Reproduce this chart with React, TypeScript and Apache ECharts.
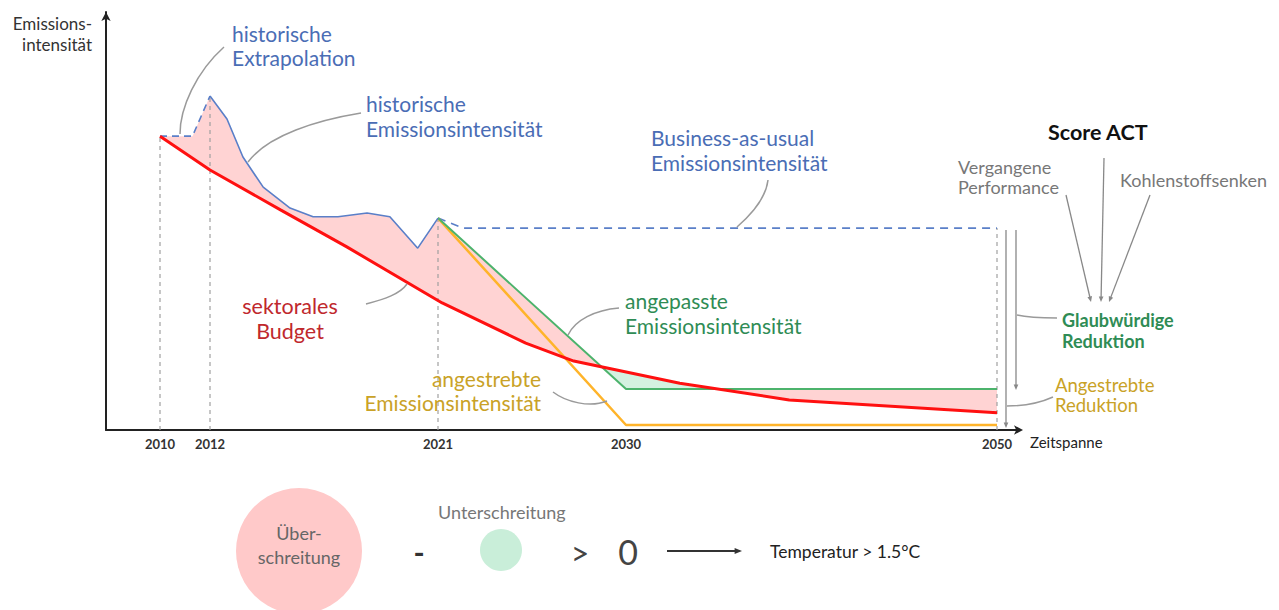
import React, { useEffect, useRef } from "react";
import * as echarts from "echarts";

// ---- time axis (schematic, non-linear spacing between labelled years) ----
const tickYears = [2010, 2012, 2021, 2030, 2050];
const tickUnits = [0, 2, 11.12, 18.64, 33.48];

// ---- series (emission intensity, arbitrary units 0..100) ----
const extrapolationYears = [2010, 2011.3, 2012];
const extrapolationValues = [70.3, 70.3, 79.9];

const historyYears = [2012, 2012.67, 2013.3, 2014.1, 2015.16, 2016.07, 2017.05, 2018.2, 2019.1, 2020.2, 2021];
const historyValues = [79.9, 74.4, 65.3, 58.1, 53.1, 51.0, 51.0, 51.9, 51.0, 43.5, 50.7];

const budgetYears = [2010, 2012, 2014.8, 2017.4, 2021.2, 2025.2, 2027.5, 2032.9, 2038.8, 2050];
const budgetValues = [70.3, 62.2, 52.6, 43.8, 30.4, 20.8, 16.5, 11.2, 7.2, 4.1];

const bauYears = [2021, 2022.2, 2050];
const bauValues = [50.7, 48.3, 48.3];

const adjustedYears = [2021, 2030, 2050];
const adjustedValues = [50.7, 9.8, 9.8];

const targetYears = [2021, 2030, 2050];
const targetValues = [50.7, 1.2, 1.2];

const guideYears = [2010, 2012, 2021, 2050];
const guideTops = [70.3, 79.9, 50.7, 48.3];

// ---- helpers ----
function tu(year: number): number {
  let i = 0;
  if (year <= tickYears[0]) i = 0;
  else if (year >= tickYears[tickYears.length - 1]) i = tickYears.length - 2;
  else {
    while (i < tickYears.length - 2 && year > tickYears[i + 1]) i++;
  }
  const y0 = tickYears[i], y1 = tickYears[i + 1];
  const u0 = tickUnits[i], u1 = tickUnits[i + 1];
  return u0 + ((year - y0) / (y1 - y0)) * (u1 - u0);
}

function pts(years: number[], values: number[]): number[][] {
  return years.map((y, i) => [tu(y), values[i]]);
}

function interp(P: number[][], x: number): number {
  for (let i = 0; i < P.length - 1; i++) {
    if (x >= P[i][0] && x <= P[i + 1][0]) {
      const t = P[i + 1][0] === P[i][0] ? 0 : (x - P[i][0]) / (P[i + 1][0] - P[i][0]);
      return P[i][1] + t * (P[i + 1][1] - P[i][1]);
    }
  }
  return P[P.length - 1][1];
}

function fillRegions(A: number[][], R: number[][]) {
  const lo = Math.max(A[0][0], R[0][0]);
  const hi = Math.min(A[A.length - 1][0], R[R.length - 1][0]);
  const xs = Array.from(new Set([...A, ...R].map((p) => p[0]).filter((x) => x >= lo && x <= hi))).sort(
    (a, b) => a - b
  );
  const list: { x: number; a: number; r: number }[] = [];
  xs.forEach((x, i) => {
    const a = interp(A, x), r = interp(R, x);
    if (i > 0) {
      const p = list[list.length - 1];
      const d0 = p.a - p.r, d1 = a - r;
      if (d0 * d1 < 0) {
        const t = d0 / (d0 - d1);
        const xc = p.x + t * (x - p.x);
        const yc = p.a + t * (a - p.a);
        list.push({ x: xc, a: yc, r: yc });
      }
    }
    list.push({ x, a, r });
  });
  const regions: { x: number; a: number; r: number }[][] = [];
  let cur = [list[0]];
  for (let i = 1; i < list.length; i++) {
    cur.push(list[i]);
    if (Math.abs(list[i].a - list[i].r) < 1e-9 && i < list.length - 1) {
      regions.push(cur);
      cur = [list[i]];
    }
  }
  regions.push(cur);
  return regions.map((reg) => {
    const d = reg.reduce((s, p) => s + (p.a - p.r), 0);
    return {
      over: d > 0,
      poly: [...reg.map((p) => [p.x, p.a]), ...reg.slice().reverse().map((p) => [p.x, p.r])],
    };
  });
}

const FONT = "Lato, 'Open Sans', sans-serif";
const GREY = "#9a9a9a";
const BLUE = "#4a6db5";
const GREEN = "#2f8c55";
const GOLD = "#c9a227";

function txt(x: number, y: number, text: string, fill: string, fontSize: number, extra: any = {}) {
  return {
    type: "text",
    x,
    y,
    z: 50,
    style: {
      text,
      fill,
      fontSize,
      fontFamily: FONT,
      align: "left",
      verticalAlign: "middle",
      ...extra,
    },
  };
}

function curve(x1: number, y1: number, cpx1: number, cpy1: number, cpx2: number, cpy2: number, x2: number, y2: number) {
  return {
    type: "bezierCurve",
    z: 40,
    shape: { x1, y1, cpx1, cpy1, cpx2, cpy2, x2, y2 },
    style: { stroke: GREY, lineWidth: 1.5, fill: "none" },
  };
}

function arrow(x1: number, y1: number, x2: number, y2: number, color = "#888", width = 1.3, size = 6) {
  const ang = Math.atan2(y2 - y1, x2 - x1);
  const a1 = ang + Math.PI - 0.4, a2 = ang + Math.PI + 0.4;
  return [
    {
      type: "line",
      z: 40,
      shape: { x1, y1, x2: x2 - Math.cos(ang) * size * 0.6, y2: y2 - Math.sin(ang) * size * 0.6 },
      style: { stroke: color, lineWidth: width },
    },
    {
      type: "polygon",
      z: 40,
      shape: {
        points: [
          [x2, y2],
          [x2 + Math.cos(a1) * size, y2 + Math.sin(a1) * size],
          [x2 + Math.cos(a2) * size, y2 + Math.sin(a2) * size],
        ],
      },
      style: { fill: color },
    },
  ];
}

export default function App() {
  const ref = useRef<HTMLDivElement>(null);

  useEffect(() => {
    if (!ref.current) return;
    const chart = echarts.init(ref.current, undefined, { renderer: "svg" });

    const extrap = pts(extrapolationYears, extrapolationValues);
    const hist = pts(historyYears, historyValues);
    const budget = pts(budgetYears, budgetValues);
    const bau = pts(bauYears, bauValues);
    const adjusted = pts(adjustedYears, adjustedValues);
    const target = pts(targetYears, targetValues);
    const actual = [...extrap, ...hist.slice(1), ...adjusted.slice(1)];
    const regions = fillRegions(actual, budget);

    const guideSeries = guideYears.map((y, i) => ({
      type: "line",
      z: 1,
      silent: true,
      symbol: "none",
      data: [
        [tu(y), 0],
        [tu(y), guideTops[i]],
      ],
      lineStyle: { color: "#a0a0a0", width: 1.2, type: [4, 4] },
    }));

    const option: any = {
      animation: false,
      grid: { left: 106, right: 259, top: 12, bottom: 180 },
      xAxis: {
        type: "value",
        min: -2.16,
        max: 34.4,
        splitLine: { show: false },
        axisTick: { show: false },
        axisLine: {
          show: true,
          onZero: false,
          symbol: ["none", "arrow"],
          symbolSize: [7, 9],
          symbolOffset: [0, 3],
          lineStyle: { color: "#222", width: 2 },
        },
        axisLabel: {
          customValues: tickUnits,
          formatter: (v: number) => {
            const i = tickUnits.findIndex((u) => Math.abs(u - v) < 1e-6);
            return i >= 0 ? String(tickYears[i]) : "";
          },
          color: "#333",
          fontSize: 13,
          fontWeight: "bold",
          fontFamily: FONT,
          margin: 7,
        },
      },
      yAxis: {
        type: "value",
        min: 0,
        max: 100,
        splitLine: { show: false },
        axisTick: { show: false },
        axisLabel: { show: false },
        axisLine: {
          show: true,
          onZero: false,
          symbol: ["none", "arrow"],
          symbolSize: [7, 9],
          lineStyle: { color: "#222", width: 2 },
        },
      },
      series: [
        {
          type: "custom",
          z: 0,
          silent: true,
          data: [[0, 0]],
          renderItem: (params: any, api: any) => ({
            type: "group",
            children: regions.map((r) => ({
              type: "polygon",
              shape: { points: r.poly.map((p) => api.coord(p)) },
              style: { fill: r.over ? "#ffd3d3" : "#d4f1e0", stroke: "none" },
            })),
          }),
        },
        ...guideSeries,
        {
          type: "line",
          z: 3,
          symbol: "none",
          data: bau,
          lineStyle: { color: "#5a7fc8", width: 1.6, type: [8, 6] },
        },
        {
          type: "line",
          z: 4,
          symbol: "none",
          data: target,
          lineStyle: { color: "#ffb42a", width: 2.5 },
        },
        {
          type: "line",
          z: 4,
          symbol: "none",
          data: adjusted,
          lineStyle: { color: "#4cb36c", width: 2 },
        },
        {
          type: "line",
          z: 5,
          symbol: "none",
          data: extrap,
          lineStyle: { color: "#5a7fc8", width: 1.6, type: [7, 5] },
        },
        {
          type: "line",
          z: 5,
          symbol: "none",
          data: hist,
          lineStyle: { color: "#5a7fc8", width: 1.6 },
        },
        {
          type: "line",
          z: 6,
          symbol: "none",
          data: budget,
          lineStyle: { color: "#ff1010", width: 3 },
        },
      ],
      graphic: [
        // axis titles
        txt(92, 23, "Emissions-", "#333", 17, { align: "right" }),
        txt(92, 44, "intensität", "#333", 17, { align: "right" }),
        txt(1030, 442, "Zeitspanne", "#222", 15),
        // annotations
        txt(232, 33, "historische", BLUE, 21),
        txt(232, 57, "Extrapolation", BLUE, 21),
        curve(224, 47, 196, 72, 180, 108, 180, 134),
        txt(366, 103, "historische", BLUE, 21),
        txt(366, 128, "Emissionsintensität", BLUE, 21),
        curve(361, 113, 318, 120, 268, 135, 248, 162),
        txt(651, 137, "Business-as-usual", BLUE, 21),
        txt(651, 162, "Emissionsintensität", BLUE, 21),
        curve(768, 180, 766, 198, 752, 214, 737, 227),
        txt(290, 306, "sektorales", "#c0282d", 21.5, { align: "center" }),
        txt(290, 331, "Budget", "#c0282d", 21.5, { align: "center" }),
        curve(366, 304, 385, 299, 400, 294, 407, 284),
        txt(625, 300, "angepasste", GREEN, 21),
        txt(625, 325, "Emissionsintensität", GREEN, 21),
        curve(619, 308, 595, 310, 575, 320, 568, 335),
        txt(541, 378, "angestrebte", GOLD, 21, { align: "right" }),
        txt(541, 402, "Emissionsintensität", GOLD, 21, { align: "right" }),
        curve(553, 392, 566, 402, 590, 408, 607, 401),
        // score ACT
        txt(1048, 132, "Score ACT", "#111", 21.5, { fontWeight: "bold" }),
        txt(958, 167, "Vergangene", "#777", 18),
        txt(958, 187, "Performance", "#777", 18),
        txt(1120, 180, "Kohlenstoffsenken", "#777", 18),
        ...arrow(1066, 195, 1091, 302),
        ...arrow(1104, 158, 1101, 302),
        ...arrow(1150, 195, 1109, 302),
        txt(1062, 320, "Glaubwürdige", GREEN, 18, { fontWeight: "bold" }),
        txt(1062, 341, "Reduktion", GREEN, 18, { fontWeight: "bold" }),
        txt(1055, 385, "Angestrebte", GOLD, 18.5),
        txt(1055, 405, "Reduktion", GOLD, 18.5),
        ...arrow(1016, 230, 1016, 390, "#888", 1.3, 6),
        ...arrow(1006, 230, 1006, 428, "#888", 1.3, 6),
        curve(1017, 315, 1030, 318, 1045, 318, 1057, 318),
        curve(1007, 406, 1025, 406, 1042, 402, 1053, 397),
        // bottom equation
        {
          type: "circle",
          z: 30,
          shape: { cx: 299, cy: 551, r: 63 },
          style: { fill: "#ffc9c9" },
        },
        txt(299, 533, "Über-", "#666", 18, { align: "center" }),
        txt(299, 557, "schreitung", "#666", 18, { align: "center" }),
        txt(419, 552, "-", "#333", 30, { align: "center", fontWeight: "bold" }),
        txt(438, 512, "Unterschreitung", "#777", 18),
        {
          type: "circle",
          z: 30,
          shape: { cx: 501, cy: 550, r: 21 },
          style: { fill: "#c9eed9" },
        },
        txt(580, 552, ">", "#444", 32, { align: "center" }),
        txt(628, 551, "0", "#444", 34, { align: "center" }),
        ...arrow(667, 551, 742, 551, "#333", 2, 8),
        txt(770, 551, "Temperatur > 1.5°C", "#222", 17.5),
      ],
    };

    chart.setOption(option);
    return () => chart.dispose();
  }, []);

  return (
    <div
      ref={ref}
      style={{ position: "fixed", left: 0, top: 0, width: 1279, height: 610, background: "#fff" }}
    />
  );
}
